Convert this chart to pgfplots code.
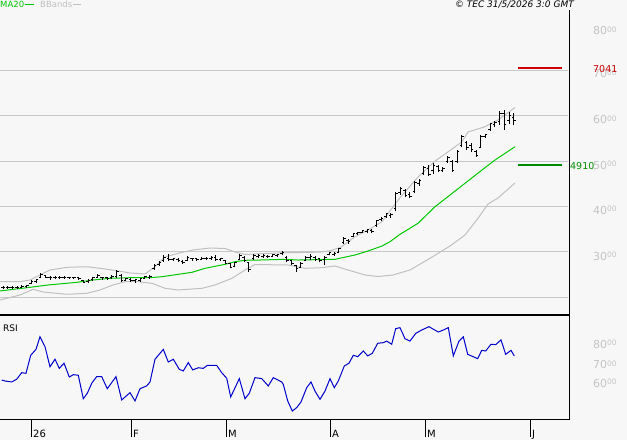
\documentclass[border=0pt]{standalone}
\usepackage{pgfplots}
\pgfplotsset{compat=1.18}
\usepackage{pgfplotstable}
\usepackage{fontspec}
\setmainfont{DejaVu Sans}
\definecolor{bg}{HTML}{F7F7F7}
\definecolor{gridc}{HTML}{C8C8C8}
\definecolor{lab}{HTML}{C4C4C4}
\definecolor{band}{HTML}{C0C0C0}
\definecolor{ma}{HTML}{00C800}
\definecolor{rsic}{HTML}{0000CC}
\definecolor{lvred}{HTML}{CC0000}
\definecolor{lvgreen}{HTML}{008C00}
\newcommand{\fs}[1]{\fontsize{#1}{#1}\selectfont}

\pgfplotstableread{
i h l o c
0 2232 2177 2200 2205
1 2232 2177 2205 2200
2 2232 2177 2200 2210
3 2243 2177 2210 2215
4 2254 2188 2215 2225
5 2265 2199 2225 2245
6 2375 2287 2300 2350
7 2397 2309 2340 2380
8 2519 2419 2430 2500
9 2486 2419 2470 2440
10 2463 2386 2440 2430
11 2463 2397 2430 2440
12 2463 2397 2435 2430
13 2463 2397 2430 2440
14 2452 2397 2440 2425
15 2452 2397 2425 2430
16 2441 2386 2430 2410
17 2386 2309 2370 2330
18 2397 2320 2340 2370
19 2441 2364 2380 2420
20 2497 2419 2430 2480
21 2452 2386 2440 2420
22 2441 2386 2420 2415
23 2475 2397 2420 2460
24 2596 2419 2450 2560
25 2497 2331 2470 2360
26 2430 2353 2370 2400
27 2419 2331 2390 2360
28 2408 2320 2360 2380
29 2419 2331 2370 2400
30 2463 2397 2410 2450
31 2475 2408 2440 2460
32 2728 2596 2620 2700
33 2794 2695 2710 2770
34 2916 2772 2800 2880
35 2949 2794 2860 2830
36 2861 2805 2830 2840
37 2850 2772 2830 2800
38 2816 2739 2790 2760
39 2894 2794 2800 2870
40 2861 2805 2850 2840
41 2850 2794 2840 2820
42 2872 2816 2830 2860
43 2872 2816 2850 2840
44 2894 2816 2840 2880
45 2916 2794 2870 2830
46 2861 2805 2830 2840
47 2827 2728 2800 2750
48 2750 2629 2730 2660
49 2783 2662 2680 2760
50 2949 2816 2830 2920
51 2894 2772 2880 2800
52 2783 2541 2760 2600
53 2938 2816 2850 2920
54 2938 2861 2900 2910
55 2938 2861 2890 2920
56 2927 2861 2900 2890
57 2949 2872 2900 2930
58 2949 2883 2920 2930
59 3004 2916 2950 2980
60 2894 2772 2880 2800
61 2827 2706 2800 2730
62 2717 2552 2700 2620
63 2783 2640 2660 2750
64 2894 2794 2810 2880
65 2949 2816 2870 2900
66 2894 2794 2880 2820
67 2861 2772 2840 2800
68 2894 2706 2820 2880
69 2993 2916 2930 2980
70 2982 2905 2940 2960
71 3081 2971 2990 3060
72 3313 3169 3200 3290
73 3280 3180 3240 3220
74 3412 3324 3340 3400
75 3434 3368 3390 3420
76 3489 3412 3430 3470
77 3500 3412 3450 3480
78 3511 3412 3470 3440
79 3699 3545 3580 3680
80 3754 3677 3700 3740
81 3864 3743 3770 3840
82 3853 3743 3800 3830
83 4316 3897 3950 4280
84 4427 4250 4300 4400
85 4383 4206 4350 4250
86 4316 4184 4260 4220
87 4559 4294 4320 4530
88 4603 4449 4500 4580
89 4890 4691 4720 4860
90 4912 4669 4830 4700
91 4956 4714 4800 4900
92 4912 4758 4880 4800
93 4868 4758 4800 4840
94 5111 4956 4980 5080
95 5022 4758 5000 4800
96 5243 4956 4980 5200
97 5574 5309 5350 5550
98 5442 5243 5400 5300
99 5397 5199 5350 5250
100 5243 5089 5200 5120
101 5574 5287 5300 5550
102 5596 5508 5550 5580
103 5839 5662 5700 5820
104 5883 5750 5800 5850
105 6103 5794 5880 6050
106 6125 5684 6050 5800
107 6081 5817 5900 6000
108 6059 5794 5950 5900
}\bars

\begin{document}
\begin{tikzpicture}
\useasboundingbox (0pt,0pt) rectangle (627pt,-440pt);
\fill[bg] (0pt,0pt) rectangle (627pt,-440pt);

% main price panel
\begin{axis}[at={(0pt,-315pt)}, anchor=south west, scale only axis,
  width=568pt, height=315pt, xmin=0, xmax=568, ymin=1603, ymax=8552,
  axis line style={draw=none}, xtick=\empty,
  ytick={2000,3000,4000,5000,6000,7000}, yticklabels={}, major tick length=0pt,
  ymajorgrids, grid style={draw=gridc, line width=1pt}, clip=false]
% Bollinger bands
\addplot[band, line width=1pt] coordinates {(0,2338) (20,2338) (30,2375) (40,2486) (50,2596) (67,2655) (87,2668) (100,2633) (117,2580) (130,2530) (145,2508) (155,2668) (165,2883) (178,2964) (193,3037) (210,3081) (225,3070) (235,2993) (245,2938) (260,2955) (283,2975) (300,2982) (320,2990) (330,3020) (341,3100) (355,3330) (368,3478) (382,3660) (390,3900) (400,4190) (418,4647) (435,4999) (452,5265) (462,5426) (468,5640) (485,5757) (498,5905) (515,6181)};
\addplot[band, line width=1pt] coordinates {(0,1934) (20,2044) (33,2170) (43,2111) (67,2060) (87,2082) (100,2155) (113,2265) (125,2338) (138,2338) (152,2302) (165,2192) (178,2155) (202,2192) (215,2265) (232,2413) (245,2596) (255,2717) (288,2706) (305,2633) (322,2647) (335,2684) (348,2596) (365,2486) (378,2452) (393,2486) (410,2596) (430,2854) (450,3125) (465,3368) (478,3736) (488,4052) (498,4184) (515,4515)};
% MA20
\addplot[ma, line width=1pt] coordinates {(0,2133) (30,2214) (48,2265) (77,2324) (93,2375) (110,2413) (130,2426) (150,2426) (162,2448) (192,2545) (205,2633) (225,2721) (235,2779) (245,2810) (260,2816) (285,2832) (298,2816) (335,2832) (355,2927) (368,3015) (382,3125) (390,3220) (400,3383) (418,3626) (435,3992) (465,4508) (482,4802) (495,5022) (515,5316)};
% OHLC bars: high-low lines
\addplot[draw=none, no markers, forget plot, error bars/.cd, y dir=plus, y explicit, error mark=none,
  error bar style={draw=black, solid, line width=1pt}]
  table[x expr=3+4.73*\thisrow{i}, y=l, y error expr=\thisrow{h}-\thisrow{l}] {\bars};
% open and close ticks
\addplot[only marks, mark=-, mark size=1pt, mark options={draw=black, line width=1pt}]
  table[x expr=3+4.73*\thisrow{i}-1, y=o] {\bars};
\addplot[only marks, mark=-, mark size=1pt, mark options={draw=black, line width=1pt}]
  table[x expr=3+4.73*\thisrow{i}+1, y=c] {\bars};
% level lines
\addplot[lvred, line width=2pt] coordinates {(518,7041) (562,7041)};
\addplot[lvgreen, line width=2.5pt] coordinates {(518,4910) (562,4910)};
\end{axis}

% RSI panel
\begin{axis}[at={(0pt,-419pt)}, anchor=south west, scale only axis,
  width=568pt, height=103pt, xmin=0, xmax=568, ymin=40.25, ymax=92.4,
  hide axis, clip=false]
\addplot[rsic, line width=1pt] coordinates {(1.7,60.0) (5,59.5) (11.7,59.0) (16.7,60.4) (21.7,63.7) (26,63.4) (30.7,72.5) (36,75.5) (40,81.9) (45,76.9) (50,66.7) (55,70.5) (59.3,65.9) (64,68.5) (69.3,61.5) (73.3,62.7) (78.3,62.4) (83.3,50.5) (87.3,53.3) (92,58.6) (96.7,61.7) (101.7,61.7) (107.3,55.6) (116,61.7) (121.7,49.9) (130,53.6) (135,49.4) (140,55.6) (146.7,57.0) (150,59.0) (155,70.5) (163.3,75.5) (168.3,69.1) (173.3,70.5) (179.3,65.4) (183.3,64.6) (188.3,68.8) (192.7,65.1) (198.3,66.2) (203.3,65.9) (207.3,67.4) (216.7,67.4) (221.7,63.7) (226.7,60.9) (230.7,51.4) (239.3,60.7) (245,50.5) (249.3,53.3) (255,61.2) (261.7,60.7) (268.3,57.0) (273.3,61.2) (281.7,59.0) (283.3,57.8) (287.7,49.4) (292.3,44.3) (296.7,46.0) (301,48.9) (306.7,56.1) (311,59.0) (315,54.4) (320,50.2) (325,54.4) (330,60.7) (334.3,56.1) (338.3,59.5) (344.3,67.1) (349,68.5) (353.3,72.5) (357.7,71.8) (363.3,74.7) (367.7,72.2) (372.3,73.5) (377.7,78.6) (383.3,78.9) (386.7,79.7) (391.7,78.1) (395.7,86.0) (400,86.5) (405,80.9) (410,79.7) (415.7,83.6) (421.7,85.3) (429,87.0) (433.3,85.7) (438.3,84.3) (443.3,85.3) (448.3,86.5) (453.3,72.2) (459,79.7) (463.3,81.9) (467.7,73.0) (477.7,70.8) (481.7,75.0) (485.7,74.7) (491,78.1) (495.7,77.9) (501,80.3) (505.7,73.0) (511,75.0) (514.3,72.2)};
\end{axis}

% frame
\draw[black, line width=2pt] (0pt,-315pt) -- (569pt,-315pt);
\draw[black, line width=1pt] (0pt,-419pt) -- (569.5pt,-419pt);
\draw[black, line width=1pt] (569pt,-10pt) -- (569pt,-419pt);

% month ticks
\foreach \xx/\tt in {31/26,131/F,226/M,330/A,425/M,530/J} {
  \draw[black, line width=1pt] (\xx pt,-419pt) -- (\xx pt,-437pt);
  \node[anchor=base west, inner sep=0pt] at (\xx pt+2pt,-437pt) {\fs{10}\tt};
}

% right scale labels
\foreach \yy/\tt in {34.9/80,77.9/70,123.9/60,169.4/50,214.4/40,260.4/30,348.2/80,368.9/70,387.2/60} {
  \node[anchor=base west, inner sep=0pt, text=lab] at (593pt,-\yy pt) {\fs{11}\tt\raisebox{2.6pt}{\fs{7.5}00}};
}
\node[anchor=base west, inner sep=0pt, text=lvred] at (593pt,-72.4pt) {\fs{9.5}7041};
\node[anchor=base west, inner sep=0pt, text=lvgreen] at (570pt,-169.4pt) {\fs{9.5}4910};

% legend and header
\node[anchor=base west, inner sep=0pt, text=ma] at (0pt,-7.5pt) {\fs{8.5}MA20};
\draw[ma, line width=1pt] (25pt,-4.7pt) -- (34pt,-4.7pt);
\node[anchor=base west, inner sep=0pt, text=band] at (40pt,-7.5pt) {\fs{8.5}BBands};
\draw[band, line width=1pt] (73pt,-4.7pt) -- (81pt,-4.7pt);
\node[anchor=base east, inner sep=0pt] at (574pt,-7.5pt) {\fs{9}\itshape © TEC 31/5/2026 3:0 GMT};
\node[anchor=base west, inner sep=0pt] at (3pt,-331pt) {\fs{9}RSI};
\end{tikzpicture}
\end{document}
